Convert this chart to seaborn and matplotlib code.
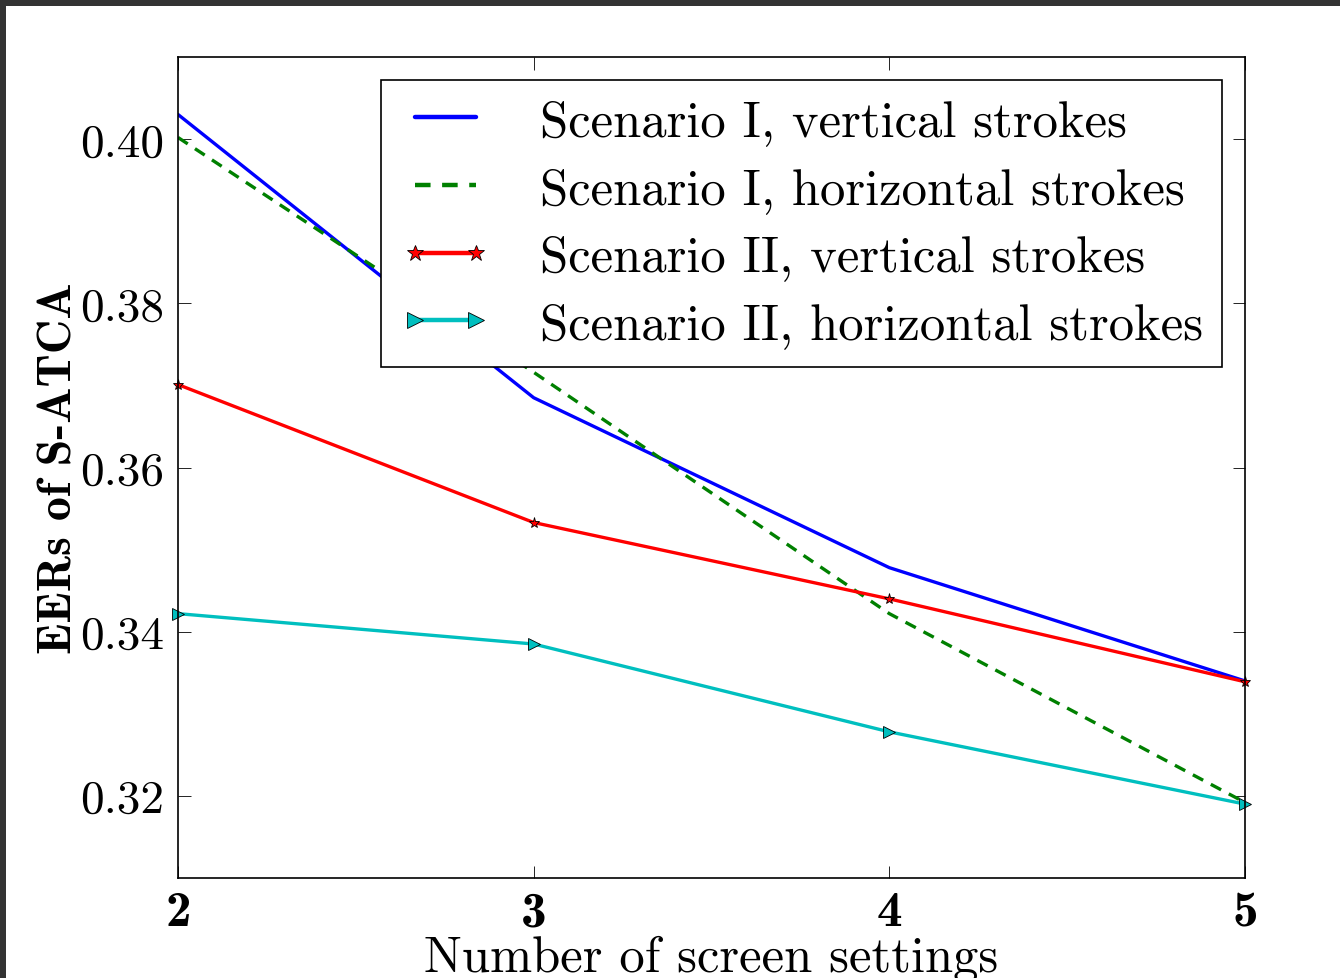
import matplotlib
matplotlib.use("Agg")
import matplotlib.pyplot as plt
import seaborn as sns
import pandas as pd
from matplotlib.patches import Rectangle

# ---- data ----
screens = [2, 3, 4, 5]
s1_vertical = [0.4030, 0.3685, 0.3478, 0.3340]
s1_horizontal = [0.4002, 0.3716, 0.3422, 0.3192]
s2_vertical = [0.3701, 0.3533, 0.3440, 0.3339]
s2_horizontal = [0.3422, 0.3385, 0.3278, 0.3190]
labels = ["Scenario I, vertical strokes", "Scenario I, horizontal strokes",
          "Scenario II, vertical strokes", "Scenario II, horizontal strokes"]
xticks = [2, 3, 4, 5]
yticks = [0.32, 0.34, 0.36, 0.38, 0.40]

sns.set_theme(style="white")
plt.rcParams["font.family"] = ["cmr10", "DejaVu Serif"]
plt.rcParams["axes.formatter.use_mathtext"] = True
plt.rcParams["mathtext.fontset"] = "cm"
plt.rcParams["text.color"] = "black"
plt.rcParams["axes.labelcolor"] = "black"
plt.rcParams["xtick.color"] = "black"
plt.rcParams["ytick.color"] = "black"

fig = plt.figure(figsize=(13.4, 9.79), dpi=100)
fig.patch.set_facecolor("white")
ax = fig.add_axes([178/1340, 1-879/979, (1245-178)/1340, (879-58)/979])

series = [s1_vertical, s1_horizontal, s2_vertical, s2_horizontal]
colors = ["#0000ff", "#008000", "#ff0000", "#00bfbf"]
styles = ["-", (0, (3.5, 2.6)), "-", "-"]
markers = [None, None, "*", ">"]
msizes = [0, 0, 8, 9]
for vals, lab, c, ls, m, ms in zip(series, labels, colors, styles, markers, msizes):
    df = pd.DataFrame({"x": screens, "y": vals})
    kw = dict(marker=m, markersize=ms, markeredgecolor="black", markeredgewidth=0.6) if m else {}
    sns.lineplot(data=df, x="x", y="y", ax=ax, color=c, linestyle=ls, linewidth=2.4,
                 label=lab, clip_on=False if m else True, **kw)

ax.set_xlim(2, 5)
ax.set_ylim(0.31, 0.41)
ax.set_xticks(xticks)
ax.set_yticks(yticks)
ax.set_xticklabels([str(t) for t in xticks], fontfamily="cmb10", fontsize=37)
ax.set_yticklabels([f"{t:.2f}" for t in yticks], fontsize=34)
ax.tick_params(direction="in", length=9, width=0.6, color="black", top=True, right=True,
               bottom=True, left=True, pad=10)
ax.tick_params(axis="x", pad=9)
for sp in ax.spines.values():
    sp.set_color("black")
    sp.set_linewidth(1.2)

ax.set_xlabel("Number of screen settings", fontsize=36.5, labelpad=-1)
ax.set_ylabel("EERs of S-ATCA", fontfamily="cmb10", fontsize=34.5, labelpad=0)

leg = ax.legend(loc="upper right", fontsize=36.5, frameon=True, fancybox=False,
                edgecolor="black", framealpha=1, borderaxespad=0.45, numpoints=2,
                handlelength=1.8, handletextpad=0.96, labelspacing=0.43, borderpad=0.38)
leg.get_frame().set_linewidth(1.2)
for h in leg.legend_handles:
    h.set_linewidth(3.2)
    if h.get_marker() not in (None, "None", ""):
        h.set_markersize(12)

# screenshot border
fig.patches.append(Rectangle((0, 1-7/979), 1, 7/979, transform=fig.transFigure,
                             facecolor="#333333", edgecolor="none", zorder=10))
fig.patches.append(Rectangle((0, 0), 6/1340, 1, transform=fig.transFigure,
                             facecolor="#333333", edgecolor="none", zorder=10))

fig.savefig("out.png", dpi=100)
